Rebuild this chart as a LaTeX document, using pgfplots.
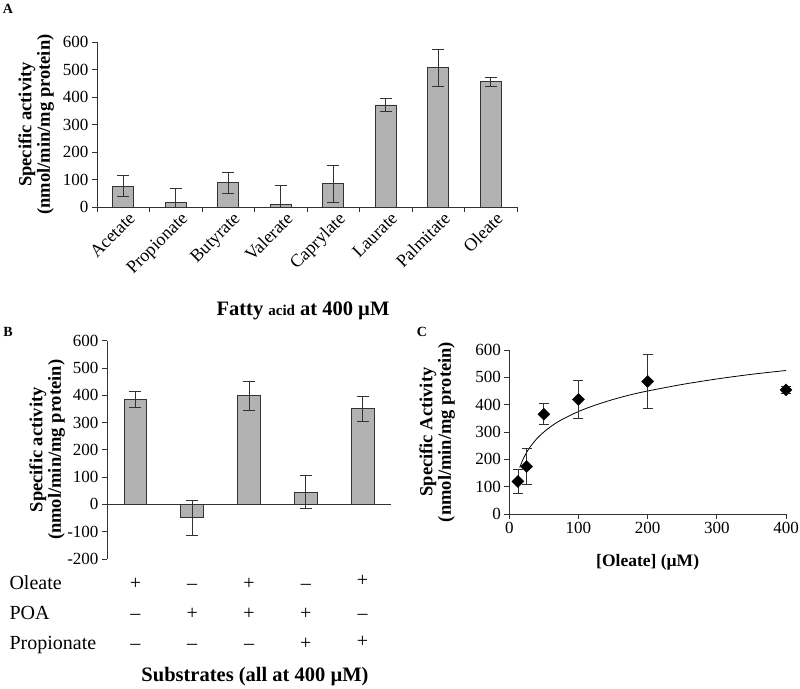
\documentclass[border=0pt]{standalone}
\usepackage{fontspec}
\setmainfont{Liberation Serif}
\usepackage{pgfplots}
\pgfplotsset{compat=1.18}
\definecolor{barfill}{RGB}{178,178,178}
\definecolor{edge}{RGB}{50,50,50}
\newcommand{\fs}[1]{\fontsize{#1}{#1}\selectfont}
\pgfdeclareplotmark{sqdiamond}{%
  \pgfpathmoveto{\pgfqpoint{0pt}{\pgfplotmarksize}}%
  \pgfpathlineto{\pgfqpoint{\pgfplotmarksize}{0pt}}%
  \pgfpathlineto{\pgfqpoint{0pt}{-\pgfplotmarksize}}%
  \pgfpathlineto{\pgfqpoint{-\pgfplotmarksize}{0pt}}%
  \pgfpathclose\pgfusepathqfillstroke}
\pgfplotsset{
  common/.style={
    scale only axis,
    anchor=south west,
    axis line style={edge, line width=0.9pt},
    tick style={edge, line width=0.9pt},
    major tick length=5pt,
    minor tick length=5pt,
    tick align=outside,
    /pgf/number format/assume math mode=true,
    ticklabel style={font=\fs{17}},
    every axis y label/.style={rotate=90, anchor=center, align=center, font=\bfseries\fs{18.5}},
    every axis x label/.style={anchor=center, font=\bfseries\fs{17.5}},
    hide obscured x ticks=false,
    hide obscured y ticks=false,
  },
  errs/.style={error bars/.cd, y dir=both, y explicit,
    error bar style={edge, line width=0.9pt},
    error mark options={rotate=90, mark size=6pt, edge, line width=0.9pt}},
}
\begin{document}
\begin{tikzpicture}[x=1pt,y=1pt]
\path[use as bounding box] (0,0) rectangle (800,688);
% ---------------- Panel A
\begin{axis}[common,
  at={(97pt,481pt)}, width=420pt, height=165pt,
  ybar, bar width=21pt,
  xmin=-0.5, xmax=7.5, ymin=0, ymax=600,
  axis x line*=bottom, axis y line*=left,
  ytick={0,100,...,600},
  xtick={0,...,7},
  xticklabels={Acetate,Propionate,Butyrate,Valerate,Caprylate,Laurate,Palmitate,Oleate},
  xticklabel style={rotate=45, anchor=north east, font=\fs{18}, xshift=7pt, yshift=1pt},
  major x tick style={draw=none},
  minor xtick={-0.5,0.5,...,7.5},
  ylabel={Specific activity\\(nmol/min/mg protein)},
  ylabel style={at={(axis description cs:-0.145,0.5)}},
]
\addplot[fill=barfill, draw=edge, line width=0.9pt, errs] coordinates {
  (0,76) +- (0,39)
  (1,18) +- (0,50)
  (2,88) +- (0,38)
  (3,8) +- (0,69)
  (4,84) +- (0,67)
  (5,371) +- (0,25)
  (6,507) +- (0,67)
  (7,456) +- (0,16)
};
\end{axis}
\node[font=\bfseries\fs{14}] at (8,679) {A};
\node[font=\bfseries\fs{20.5}] at (303,377) {Fatty {\fs{15}acid} at 400 µM};
% ---------------- Panel B
\begin{axis}[common,
  at={(107pt,129pt)}, width=284pt, height=218.3pt,
  ybar, bar width=22.7pt,
  xmin=-0.5, xmax=4.5, ymin=-200, ymax=600,
  axis x line*=middle, axis y line*=left,
  ytick={-200,-100,...,600},
  xtick=\empty,
  minor xtick={0.5,1.5,...,4.5},
  ylabel={Specific activity\\(nmol/min/mg protein)},
  ylabel style={at={(axis description cs:-0.211,0.5)}},
]
\addplot[fill=barfill, draw=edge, line width=0.9pt, errs] coordinates {
  (0,384) +- (0,30)
  (1,-49) +- (0,64)
  (2,398) +- (0,53)
  (3,45) +- (0,60)
  (4,350) +- (0,45)
};
\end{axis}
\node[font=\bfseries\fs{14}] at (8,356) {B};
\begin{scope}[every node/.style={font=\fs{20}, anchor=base}]
\node[anchor=base west] at (6,99) {Oleate};
\node[anchor=base west] at (6,69) {POA};
\node[anchor=base west] at (6,39) {Propionate};
\node at (135.4,99) {+};   \node at (192.2,99) {–}; \node at (249,99) {+};   \node at (305.8,99) {–}; \node at (362.6,101) {+};
\node at (135.4,69) {–};   \node at (192.2,69) {+}; \node at (249,69) {+};   \node at (305.8,69) {+}; \node at (362.6,69) {–};
\node at (135.4,39) {–};   \node at (192.2,39) {–}; \node at (249,39) {–};   \node at (305.8,39) {+}; \node at (362.6,41) {+};
\end{scope}
\node[font=\bfseries\fs{20.5}] at (255,11) {Substrates (all at 400 µM)};
% ---------------- Panel C
\begin{axis}[common,
  at={(509.3pt,174pt)}, width=276.7pt, height=164pt,
  xmin=0, xmax=400, ymin=0, ymax=600,
  axis x line*=bottom, axis y line*=left,
  xtick={0,100,...,400}, ytick={0,100,...,600},
  xlabel={[Oleate] (µM)},
  xlabel style={at={(axis description cs:0.5,-0.293)}},
  ylabel={Specific Activity\\(nmol/min/mg protein)},
  ylabel style={at={(axis description cs:-0.261,0.5)}},
  clip=false,
]
\addplot[black, line width=0.8pt, smooth, no marks] coordinates {
  (15,170) (20,201) (25,225) (30,245) (40,276) (50,300) (60,320) (75,344)
  (100,375) (125,399) (150,419) (175,436) (200,450) (250,474) (300,494)
  (350,511) (400,525)
};
\addplot[only marks, mark=sqdiamond, mark size=6pt, mark options={fill=black, draw=black},
  error bars/.cd, y dir=both, y explicit,
  error bar style={edge, line width=0.8pt},
  error mark options={rotate=90, mark size=5pt, edge, line width=0.8pt}] coordinates {
  (12.5,119) +- (0,45)
  (25,174) +- (0,65)
  (50,365) +- (0,38)
  (100,419) +- (0,69)
  (200,485) +- (0,100)
  (400,454) +- (0,12)
};
\end{axis}
\node[font=\bfseries\fs{14}] at (422,356) {C};
\end{tikzpicture}
\end{document}
